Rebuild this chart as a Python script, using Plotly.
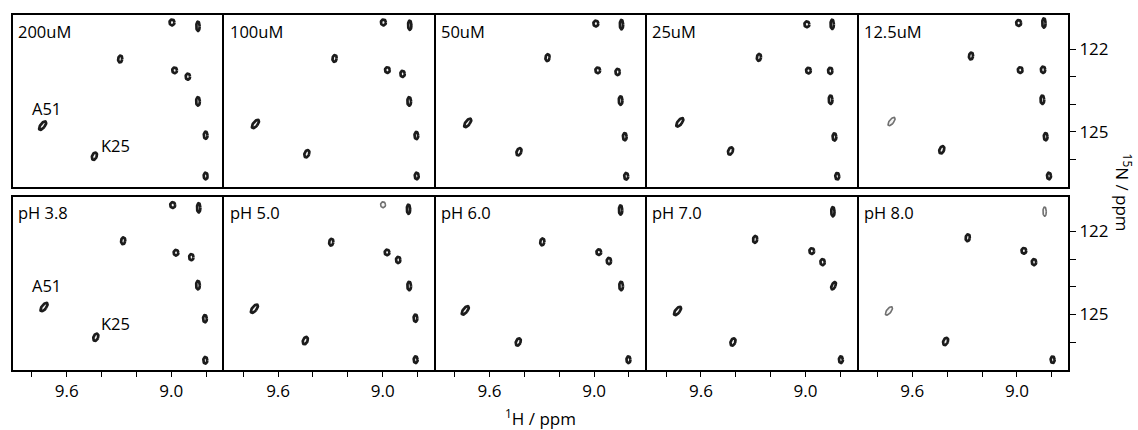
import numpy as np
import plotly.graph_objects as go

# ---------------- data ----------------
conc_labels = ["200uM", "100uM", "50uM", "25uM", "12.5uM"]
ph_labels = ["pH 3.8", "pH 5.0", "pH 6.0", "pH 7.0", "pH 8.0"]
peak_names = ["a", "b", "c", "d", "e", "f", "A51", "g", "K25", "h"]

# 1H / 15N chemical shifts (ppm); None = peak not observed
h_200uM = [8.996, 8.847, 9.293, 8.981, 8.905, 8.847, 9.738, 8.803, 9.441, 8.803]
n_200uM = [121.02, 121.16, 122.35, 122.76, 122.99, 123.89, 124.77, 125.12, 125.88, 126.60]
h_100uM = [8.996, 8.845, 9.276, 8.973, 8.886, 8.848, 9.730, 8.807, 9.435, 8.805]
n_100uM = [121.02, 121.12, 122.33, 122.75, 122.89, 123.89, 124.71, 125.13, 125.79, 126.60]
h_50uM = [8.990, 8.843, 9.267, 8.979, 8.865, 8.848, 9.725, 8.824, 9.431, 8.816]
n_50uM = [121.06, 121.10, 122.30, 122.76, 122.82, 123.86, 124.67, 125.17, 125.72, 126.61]
h_25uM = [8.992, 8.847, 9.267, 8.983, 8.858, 8.856, 9.721, 8.834, 9.430, 8.818]
n_25uM = [121.09, 121.09, 122.29, 122.77, 122.78, 123.83, 124.65, 125.18, 125.69, 126.61]
h_12uM = [8.990, 8.845, 9.263, 8.981, 8.850, 8.854, 9.719, 8.835, 9.431, 8.816]
n_12uM = [121.04, 121.04, 122.24, 122.75, 122.74, 123.83, 124.62, 125.17, 125.65, 126.60]

h_ph38 = [8.992, 8.843, 9.276, 8.973, 8.885, 8.847, 9.730, 8.807, 9.433, 8.805]
n_ph38 = [121.05, 121.15, 122.34, 122.77, 122.93, 123.94, 124.73, 125.15, 125.82, 126.65]
h_ph50 = [8.998, 8.852, 9.295, 8.975, 8.911, 8.848, 9.736, 8.812, 9.444, 8.811]
n_ph50 = [121.04, 121.20, 122.39, 122.76, 123.03, 123.97, 124.79, 125.13, 125.94, 126.63]
h_ph60 = [None, 8.848, 9.297, 8.973, 8.915, 8.845, 9.739, None, 9.435, 8.803]
n_ph60 = [None, 121.23, 122.38, 122.75, 123.07, 123.97, 124.85, None, 125.99, 126.63]
h_ph70 = [None, 8.843, 9.289, 8.964, 8.902, 8.839, 9.734, None, 9.416, 8.797]
n_ph70 = [None, 121.29, 122.29, 122.71, 123.11, 123.96, 124.87, None, 125.99, 126.63]
h_ph80 = [None, 8.841, 9.282, 8.960, 8.902, None, 9.734, None, 9.409, 8.795]
n_ph80 = [None, 121.29, 122.23, 122.70, 123.11, None, 124.87, None, 125.97, 126.63]

x_tick_vals = [9.6, 9.0]
x_tick_text = ["9.6", "9.0"]
x_minor_vals = [9.8, 9.4, 9.2, 8.8]
y_tick_vals = [122, 125]
y_tick_text = ["122", "125"]
y_minor_vals = [123, 124, 126]

# label positions (ppm) for assigned peaks in first column
assign_labels = ["A51", "K25"]
assign_h_top = [9.718, 9.323]
assign_n_top = [124.16, 125.48]
assign_h_bot = [9.718, 9.323]
assign_n_bot = [123.94, 125.33]

# ---------------- styling ----------------
X_RANGE = [9.908, 8.707]
Y_RANGE = [127.0, 120.75]
W, H = 1138, 430
ML, MR, MT, MB = 11, 70, 15, 60
plot_w = W - ML - MR
plot_h = H - MT - MB
GAP = 2  # px between panel domains so shared borders coincide
PANEL_W = (plot_w - 4 * GAP) / 5
ROW1_H = 172
ROW2_H = 173.3

FONT = "Open Sans, Noto Sans, Arial, sans-serif"

# ellipse shape per peak, in pixels: (semi-axis x, semi-axis y, rotation deg)
peak_shape = {
    "a": (2.5, 2.9, 0), "b": (1.7, 4.6, 0), "c": (2.1, 3.4, -8),
    "d": (2.4, 2.8, 0), "e": (2.2, 3.1, 0), "f": (1.9, 4.2, 0),
    "A51": (2.2, 5.0, -38), "g": (1.9, 3.6, 0), "K25": (2.3, 3.8, -22),
    "h": (2.0, 3.3, 0),
}
faint = {(0, 4): ["A51"], (1, 4): ["A51", "b"], (1, 1): ["a"]}
tilt_override = {(1, 3): {"f": (1.9, 3.9, -25)}}

rows = [
    [(h_200uM, n_200uM), (h_100uM, n_100uM), (h_50uM, n_50uM), (h_25uM, n_25uM), (h_12uM, n_12uM)],
    [(h_ph38, n_ph38), (h_ph50, n_ph50), (h_ph60, n_ph60), (h_ph70, n_ph70), (h_ph80, n_ph80)],
]
titles = [conc_labels, ph_labels]

px_per_ppm_x = PANEL_W / abs(X_RANGE[0] - X_RANGE[1])


def ellipse(h0, n0, rx, ry, rot, px_per_ppm_y):
    t = np.linspace(0, 2 * np.pi, 40)
    u = rx * np.cos(t)
    v = ry * np.sin(t)
    a = np.deg2rad(rot)
    X = u * np.cos(a) - v * np.sin(a)
    Y = u * np.sin(a) + v * np.cos(a)
    return list(h0 - X / px_per_ppm_x), list(n0 - Y / px_per_ppm_y)


fig = go.Figure()
layout = {}
annotations = []

row_domains = [
    [1 - ROW1_H / plot_h, 1.0],
    [0.0, ROW2_H / plot_h],
]

for r in range(2):
    px_per_ppm_y = (ROW1_H if r == 0 else ROW2_H) / abs(Y_RANGE[0] - Y_RANGE[1])
    for c in range(5):
        idx = r * 5 + c + 1
        xa = "x" if idx == 1 else f"x{idx}"
        ya = "y" if idx == 1 else f"y{idx}"
        hs, ns = rows[r][c]
        groups = {"dark": ([], []), "faint": ([], [])}
        for name, h0, n0 in zip(peak_names, hs, ns):
            if h0 is None:
                continue
            shp = tilt_override.get((r, c), {}).get(name, peak_shape[name])
            ex, ey = ellipse(h0, n0, *shp, px_per_ppm_y)
            key = "faint" if name in faint.get((r, c), []) else "dark"
            groups[key][0].extend(ex + [None])
            groups[key][1].extend(ey + [None])
        for key, (gx, gy) in groups.items():
            if not gx:
                continue
            fig.add_trace(go.Scatter(
                x=gx, y=gy, mode="lines", xaxis=xa, yaxis=ya,
                fill="toself", fillcolor="#f4f4f4",
                line=dict(color="#1c1c1c" if key == "dark" else "#707070",
                          width=2.7 if key == "dark" else 1.6),
                hoverinfo="skip", showlegend=False,
            ))

        xkey = "xaxis" if idx == 1 else f"xaxis{idx}"
        ykey = "yaxis" if idx == 1 else f"yaxis{idx}"
        bottom = r == 1
        right = c == 4
        x0 = c * (PANEL_W + GAP) / plot_w
        x1 = (c * (PANEL_W + GAP) + PANEL_W) / plot_w
        layout[xkey] = dict(
            domain=[x0, min(x1, 1.0)], anchor=ya, range=X_RANGE,
            showgrid=False, zeroline=False, showline=True, mirror=True,
            linecolor="black", linewidth=2,
            tickmode="array", tickvals=x_tick_vals, ticktext=x_tick_text,
            ticks="outside" if bottom else "", ticklen=5, tickwidth=1,
            tickcolor="black", showticklabels=bottom,
            minor=dict(tickmode="array", tickvals=x_minor_vals,
                       ticks="outside" if bottom else "", ticklen=5,
                       tickwidth=1, tickcolor="black", showgrid=False),
            tickfont=dict(family=FONT, size=17, color="black"),
        )
        layout[ykey] = dict(
            domain=row_domains[r], anchor=xa, range=Y_RANGE,
            side="right", showgrid=False, zeroline=False, showline=True,
            mirror=True, linecolor="black", linewidth=2,
            tickmode="array", tickvals=y_tick_vals, ticktext=y_tick_text,
            ticks="outside" if right else "", ticklen=6, tickwidth=1,
            tickcolor="black", showticklabels=right,
            minor=dict(tickmode="array", tickvals=y_minor_vals,
                       ticks="outside" if right else "", ticklen=6,
                       tickwidth=1, tickcolor="black", showgrid=False),
            tickfont=dict(family=FONT, size=17, color="black"),
        )
        annotations.append(dict(
            text=titles[r][c], xref=f"{xa} domain", yref=f"{ya} domain",
            x=0.015, y=0.985, xanchor="left", yanchor="top", showarrow=False,
            font=dict(family=FONT, size=16.5, color="black"),
        ))

# assignment labels in first column
for r, (lh, ln) in enumerate([(assign_h_top, assign_n_top), (assign_h_bot, assign_n_bot)]):
    xa = "x" if r == 0 else "x6"
    ya = "y" if r == 0 else "y6"
    for lab, h0, n0 in zip(assign_labels, lh, ln):
        annotations.append(dict(
            text=lab, x=h0, y=n0, xref=xa, yref=ya, showarrow=False,
            xanchor="center", yanchor="middle",
            font=dict(family=FONT, size=16.5, color="black"),
        ))

annotations.append(dict(
    text="<sup>1</sup>H / ppm", xref="paper", yref="paper", x=0.5, y=-0.135,
    xanchor="center", yanchor="middle", showarrow=False,
    font=dict(family=FONT, size=17, color="black"),
))
annotations.append(dict(
    text="<sup>15</sup>N / ppm", xref="paper", yref="paper", x=1.053, y=0.5,
    xanchor="center", yanchor="middle", showarrow=False, textangle=90,
    font=dict(family=FONT, size=17, color="black"),
))

fig.update_layout(
    width=W, height=H, margin=dict(l=ML, r=MR, t=MT, b=MB),
    paper_bgcolor="white", plot_bgcolor="white",
    annotations=annotations, showlegend=False, **layout,
)

fig.write_html("out.html")
